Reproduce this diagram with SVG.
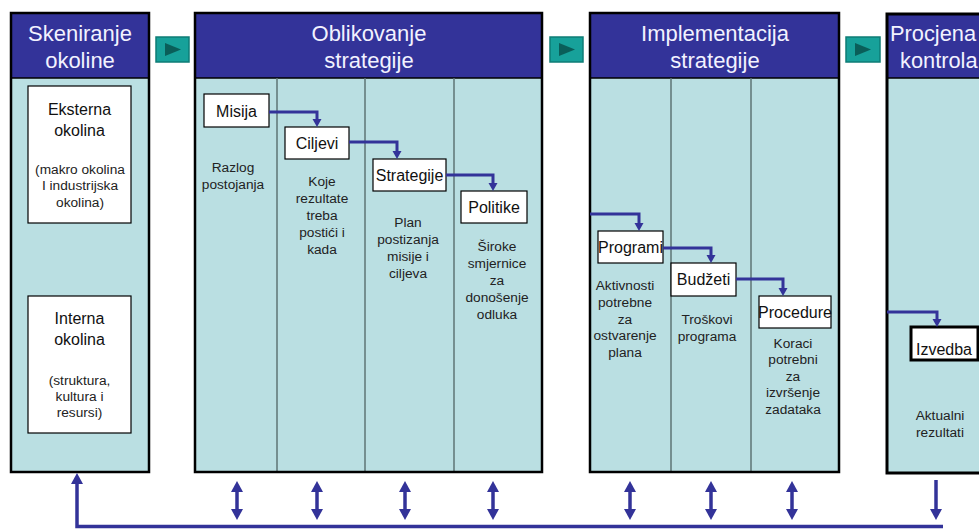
<svg xmlns="http://www.w3.org/2000/svg" width="979" height="529" viewBox="0 0 979 529">
<style>
.body{fill:#BADFE2}
.hdr{fill:#333399}
.frame{fill:none;stroke:#000;stroke-width:2.5}
.sep{stroke:#000;stroke-width:1.5}
.div{stroke:#5E7474;stroke-width:1.5}
.ht{font-family:"Liberation Sans",Arial,sans-serif;font-size:22px;fill:#F2F2FF;text-anchor:middle}
.hs{font-family:"Liberation Sans",Arial,sans-serif;font-size:21.8px;fill:#F2F2FF;text-anchor:start}
.box{fill:#fff;stroke:#000;stroke-width:1.2}
.nt{font-family:"Liberation Sans",Arial,sans-serif;font-size:16px;fill:#111;text-anchor:middle}
.dt{font-family:"Liberation Sans",Arial,sans-serif;font-size:13.7px;fill:#222;text-anchor:middle}
.btn{fill:#17A19A;stroke:#0E7C76;stroke-width:1.5}
.tri{fill:#0A5E59}
.con{fill:none;stroke:#333399;stroke-width:3}
.fb{fill:none;stroke:#333399;stroke-width:3.5}
</style>
<defs>
<marker id="ah" markerUnits="userSpaceOnUse" markerWidth="10" markerHeight="10" refX="0" refY="4.5" orient="auto">
<path d="M0,0 L8,4.5 L0,9 z" fill="#333399"/>
</marker>
<marker id="bh" markerUnits="userSpaceOnUse" markerWidth="12" markerHeight="13" refX="0" refY="6" orient="auto-start-reverse">
<path d="M0,0 L11,6 L0,12 z" fill="#333399"/>
</marker>
</defs>

<g id="panel-skeniranje">
<rect class="body" x="11" y="78" width="138" height="394"/>
<rect class="hdr" x="11" y="13" width="138" height="65"/>
<line class="sep" x1="11" y1="78" x2="149" y2="78"/>
<rect class="frame" x="11" y="13" width="138" height="459"/>
<text class="ht" x="80" y="41">Skeniranje</text>
<text class="ht" x="80" y="68">okoline</text>
</g>
<g id="node-eksterna">
<rect class="box" x="28" y="86" width="103" height="137"/>
<text class="nt" x="79.5" y="115" font-size="16.5">Eksterna</text>
<text class="nt" x="79.5" y="136" font-size="16.5">okolina</text>
<text class="dt" x="80" y="174">(makro okolina</text>
<text class="dt" x="80" y="190">I industrijska</text>
<text class="dt" x="80" y="207">okolina)</text>
</g>
<g id="node-interna">
<rect class="box" x="28" y="296" width="103" height="137"/>
<text class="nt" x="79.5" y="324" font-size="16.5">Interna</text>
<text class="nt" x="79.5" y="345" font-size="16.5">okolina</text>
<text class="dt" x="79.5" y="385">(struktura,</text>
<text class="dt" x="79.5" y="401">kultura i</text>
<text class="dt" x="79.5" y="417">resursi)</text>
</g>

<g id="btn1"><rect class="btn" x="156" y="37" width="33" height="25"/><path class="tri" d="M165,43 L181,49.5 L165,56 z"/></g>
<g id="btn2"><rect class="btn" x="550" y="37" width="33" height="25"/><path class="tri" d="M559,43 L575,49.5 L559,56 z"/></g>
<g id="btn3"><rect class="btn" x="846" y="37" width="34" height="25"/><path class="tri" d="M855,43 L871,49.5 L855,56 z"/></g>

<g id="panel-oblikovanje">
<rect class="body" x="195" y="78" width="347" height="394"/>
<rect class="hdr" x="195" y="13" width="347" height="65"/>
<line class="sep" x1="195" y1="78" x2="542" y2="78"/>
<line class="div" x1="277" y1="78" x2="277" y2="472"/>
<line class="div" x1="365" y1="78" x2="365" y2="472"/>
<line class="div" x1="454" y1="78" x2="454" y2="472"/>
<rect class="frame" x="195" y="13" width="347" height="459"/>
<text class="ht" x="369" y="41">Oblikovanje</text>
<text class="ht" x="369" y="68">strategije</text>
<text class="dt" x="233" y="172">Razlog</text>
<text class="dt" x="233" y="189">postojanja</text>
<text class="dt" x="322" y="186">Koje</text>
<text class="dt" x="322" y="203">rezultate</text>
<text class="dt" x="322" y="220">treba</text>
<text class="dt" x="322" y="237">postići i</text>
<text class="dt" x="322" y="254">kada</text>
<text class="dt" x="408" y="227">Plan</text>
<text class="dt" x="408" y="244">postizanja</text>
<text class="dt" x="408" y="261">misije i</text>
<text class="dt" x="408" y="278">ciljeva</text>
<text class="dt" x="497" y="251">Široke</text>
<text class="dt" x="497" y="268">smjernice</text>
<text class="dt" x="497" y="285">za</text>
<text class="dt" x="497" y="302">donošenje</text>
<text class="dt" x="497" y="319">odluka</text>
</g>
<g id="node-misija"><rect class="box" x="204" y="94" width="65" height="33"/><text class="nt" x="236.5" y="117" font-size="16.5">Misija</text></g>
<g id="node-ciljevi"><rect class="box" x="285" y="127" width="64" height="32"/><text class="nt" x="317" y="149" font-size="16.5">Ciljevi</text></g>
<g id="node-strategije"><rect class="box" x="373" y="159" width="73" height="32"/><text class="nt" x="409.5" y="181" font-size="15.5">Strategije</text></g>
<g id="node-politike"><rect class="box" x="461" y="191" width="66" height="32"/><text class="nt" x="494" y="213" font-size="16.5">Politike</text></g>

<g id="panel-implementacija">
<rect class="body" x="590" y="78" width="249" height="394"/>
<rect class="hdr" x="590" y="13" width="249" height="65"/>
<line class="sep" x1="590" y1="78" x2="839" y2="78"/>
<line class="div" x1="671" y1="78" x2="671" y2="472"/>
<line class="div" x1="751" y1="78" x2="751" y2="472"/>
<rect class="frame" x="590" y="13" width="249" height="459"/>
<text class="ht" x="715" y="41">Implementacija</text>
<text class="ht" x="715" y="68">strategije</text>
<text class="dt" x="625" y="290">Aktivnosti</text>
<text class="dt" x="625" y="307">potrebne</text>
<text class="dt" x="625" y="324">za</text>
<text class="dt" x="625" y="340">ostvarenje</text>
<text class="dt" x="625" y="357">plana</text>
<text class="dt" x="707" y="324">Troškovi</text>
<text class="dt" x="707" y="341">programa</text>
<text class="dt" x="793" y="348">Koraci</text>
<text class="dt" x="793" y="364">potrebni</text>
<text class="dt" x="793" y="381">za</text>
<text class="dt" x="793" y="397">izvršenje</text>
<text class="dt" x="793" y="414">zadataka</text>
</g>
<g id="node-programi"><rect class="box" x="598" y="231" width="65" height="32"/><text class="nt" x="630.5" y="253" font-size="15.5">Programi</text></g>
<g id="node-budzeti"><rect class="box" x="671" y="263" width="65" height="33"/><text class="nt" x="703.5" y="285" font-size="16">Budžeti</text></g>
<g id="node-procedure"><rect class="box" x="759" y="296" width="72" height="32"/><text class="nt" x="795" y="318" font-size="15.5">Procedure</text></g>

<g id="panel-procjena">
<rect class="body" x="887" y="78" width="100" height="395"/>
<rect class="hdr" x="887" y="14" width="100" height="64"/>
<line class="sep" x1="887" y1="78" x2="987" y2="78"/>
<rect x="887" y="14" width="100" height="459" fill="none" stroke="#000" stroke-width="3"/>
<text class="hs" x="890" y="41">Procjena</text>
<text class="hs" x="900" y="68">kontrola</text>
<text class="dt" x="940" y="420">Aktualni</text>
<text class="dt" x="940" y="437">rezultati</text>
</g>
<g id="node-izvedba"><rect x="911" y="327" width="67" height="33" fill="#fff" stroke="#000" stroke-width="3"/><text class="nt" x="944" y="355" font-size="17">Izvedba</text></g>

<g id="connectors">
<path class="con" d="M269,112 H317 V119" marker-end="url(#ah)"/>
<path class="con" d="M349,142 H397 V151" marker-end="url(#ah)"/>
<path class="con" d="M446,175 H493 V183" marker-end="url(#ah)"/>
<path class="con" d="M590,214 H639 V223" marker-end="url(#ah)"/>
<path class="con" d="M663,248 H711 V255" marker-end="url(#ah)"/>
<path class="con" d="M736,279 H783 V288" marker-end="url(#ah)"/>
<path class="con" d="M887,312 H937 V319" marker-end="url(#ah)"/>
<path class="fb" d="M237,492 V509" marker-start="url(#bh)" marker-end="url(#bh)"/>
<path class="fb" d="M317,492 V509" marker-start="url(#bh)" marker-end="url(#bh)"/>
<path class="fb" d="M405,492 V509" marker-start="url(#bh)" marker-end="url(#bh)"/>
<path class="fb" d="M493,492 V509" marker-start="url(#bh)" marker-end="url(#bh)"/>
<path class="fb" d="M630,492 V509" marker-start="url(#bh)" marker-end="url(#bh)"/>
<path class="fb" d="M711,492 V509" marker-start="url(#bh)" marker-end="url(#bh)"/>
<path class="fb" d="M792,492 V509" marker-start="url(#bh)" marker-end="url(#bh)"/>
<path class="fb" d="M936,480 V509" marker-end="url(#bh)"/>
<path class="fb" d="M943,526.5 H77 V484" marker-end="url(#bh)"/>
</g>
</svg>
